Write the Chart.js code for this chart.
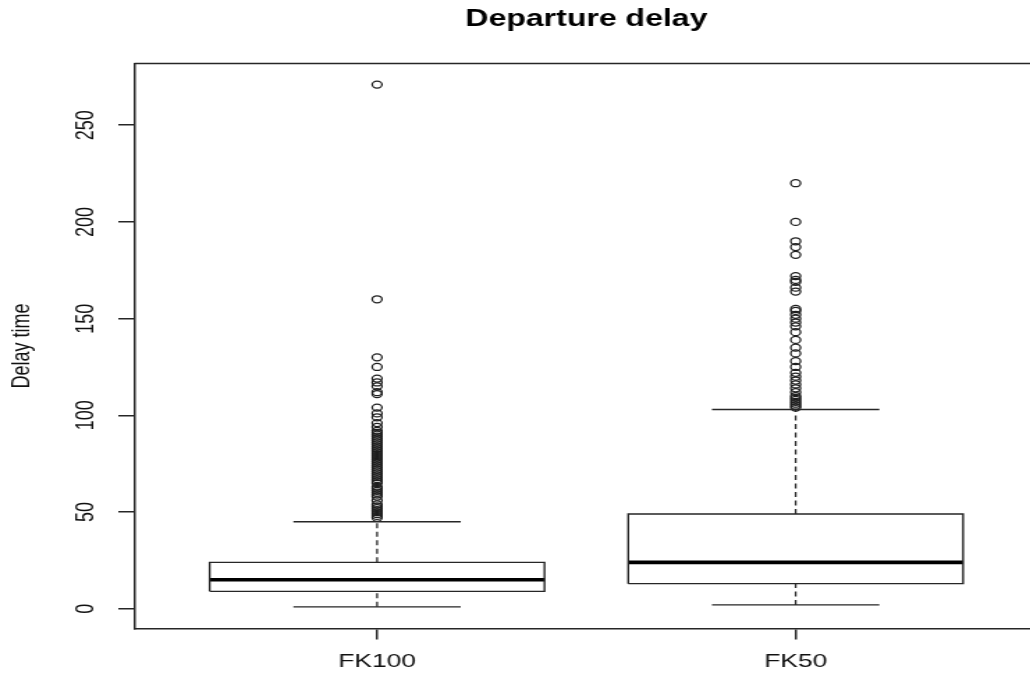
<!DOCTYPE html>
<html>
<head>
<meta charset="utf-8">
<script src="https://cdn.jsdelivr.net/npm/chart.js@4.4.1/dist/chart.umd.min.js"></script>
<style>
  html, body { margin: 0; padding: 0; background: #fff; }
  #wrap { width: 1030px; height: 679px; overflow: hidden; }
  /* the reference picture is stretched sideways, so the canvas is too */
  #box { transform: scaleX(1.392); transform-origin: 0 0; }
</style>
</head>
<body>
<div id="wrap"><canvas id="box" width="746" height="679"></canvas></div>
<script>
// data
const categories = ['FK100', 'FK50'];
const whiskerLow = [1, 2];
const q1 = [9, 13];
const median = [15, 24];
const q3 = [24, 49];
const whiskerHigh = [45, 103];
const outliersFK100 = [47, 48, 49, 50, 51, 52, 53, 54, 56, 58, 59, 60, 61, 62, 63, 65, 66, 67, 68,
  69, 70, 71, 72, 73, 74, 75, 76, 77, 78, 79, 80, 81, 82, 83, 84, 85, 86, 87, 88, 89, 90, 91, 92,
  94, 96, 99, 101, 104, 111, 112, 115, 117, 119, 125, 130, 160, 271];
const outliersFK50 = [104, 105, 106, 107, 108, 109, 110, 112, 114, 116, 118, 120, 122, 125, 128,
  132, 135, 139, 143, 146, 148, 150, 152, 154, 155, 164, 166, 169, 170, 172, 183, 187, 190, 200, 220];
const outliers = [outliersFK100, outliersFK50];
const yTicks = [0, 50, 100, 150, 200, 250];

// R boxplot geometry (in category units)
const boxHalf = 0.4;
const capHalf = 0.2;
const ink = '#262626';
const font = 'Liberation Sans, Arial, sans-serif';

function lineSet(points, extra) {
  return Object.assign({
    data: points,
    showLine: true,
    borderColor: ink,
    borderWidth: 1.4,
    pointRadius: 0,
    pointHoverRadius: 0,
    tension: 0,
    fill: false
  }, extra);
}

const datasets = [];
categories.forEach((c, i) => {
  const x = i + 1;
  // dashed whiskers
  datasets.push(lineSet([
    {x: x, y: q3[i]}, {x: x, y: whiskerHigh[i]}, {x: x, y: null},
    {x: x, y: whiskerLow[i]}, {x: x, y: q1[i]}
  ], {borderDash: [5, 3.5], borderWidth: 1.3}));
  // staples
  datasets.push(lineSet([
    {x: x - capHalf, y: whiskerHigh[i]}, {x: x + capHalf, y: whiskerHigh[i]}, {x: x, y: null},
    {x: x - capHalf, y: whiskerLow[i]}, {x: x + capHalf, y: whiskerLow[i]}
  ]));
  // box
  datasets.push(lineSet([
    {x: x - boxHalf, y: q1[i]}, {x: x + boxHalf, y: q1[i]}, {x: x + boxHalf, y: q3[i]},
    {x: x - boxHalf, y: q3[i]}, {x: x - boxHalf, y: q1[i]}
  ], {borderJoinStyle: 'miter'}));
  // median
  datasets.push(lineSet([
    {x: x - boxHalf, y: median[i]}, {x: x + boxHalf, y: median[i]}
  ], {borderColor: '#000', borderWidth: 3.6}));
  // outliers
  datasets.push({
    data: outliers[i].map(v => ({x: x, y: v})),
    showLine: false,
    pointStyle: 'circle',
    pointRadius: 3.5,
    pointBorderWidth: 1.25,
    pointBorderColor: '#1e1e1e',
    pointBackgroundColor: 'rgba(0,0,0,0)'
  });
});

// top and right side of the R box() frame
const frame = {
  id: 'frame',
  afterDraw(chart) {
    const {ctx, chartArea: a} = chart;
    ctx.save();
    ctx.strokeStyle = ink;
    ctx.lineWidth = 1.5;
    ctx.beginPath();
    ctx.moveTo(a.left, a.top);
    ctx.lineTo(a.right, a.top);
    ctx.lineTo(a.right, a.bottom);
    ctx.stroke();
    ctx.restore();
  }
};

new Chart(document.getElementById('box'), {
  type: 'scatter',
  data: {datasets},
  plugins: [frame],
  options: {
    responsive: false,
    animation: false,
    events: [],
    layout: {padding: 0, autoPadding: false},
    plugins: {
      legend: {display: false},
      tooltip: {enabled: false},
      title: {
        display: true,
        text: 'Departure delay',
        fullSize: false,
        color: '#000',
        font: {family: font, size: 23, weight: 'bold'},
        padding: {top: 6.2, bottom: 29.7}
      }
    },
    scales: {
      x: {
        type: 'linear',
        min: 0.42,
        max: 2.58,
        afterBuildTicks: s => { s.ticks = categories.map((c, i) => ({value: i + 1})); },
        afterFit: s => { s.height = 50.3; },
        ticks: {
          autoSkip: false,
          maxRotation: 0,
          padding: 11,
          color: '#111',
          font: {family: font, size: 19},
          callback: v => categories[v - 1]
        },
        grid: {drawOnChartArea: false, drawTicks: true, tickLength: 10.7, color: ink, lineWidth: 1.5},
        border: {display: true, color: ink, width: 1.5}
      },
      y: {
        min: -10.3,
        max: 281.9,
        afterBuildTicks: s => { s.ticks = yTicks.map(v => ({value: v})); },
        afterFit: s => { s.width = 96.5; },
        title: {
          display: true,
          text: 'Delay time',
          color: '#111',
          font: {family: font, size: 18},
          padding: {top: 5.7, bottom: 0}
        },
        ticks: {
          minRotation: 90,
          maxRotation: 90,
          crossAlign: 'center',
          padding: 7.5,
          color: '#111',
          font: {family: font, size: 18}
        },
        grid: {drawOnChartArea: false, drawTicks: true, tickLength: 11.5, color: ink, lineWidth: 1.5},
        border: {display: true, color: ink, width: 1.5}
      }
    }
  }
});
</script>
</body>
</html>
